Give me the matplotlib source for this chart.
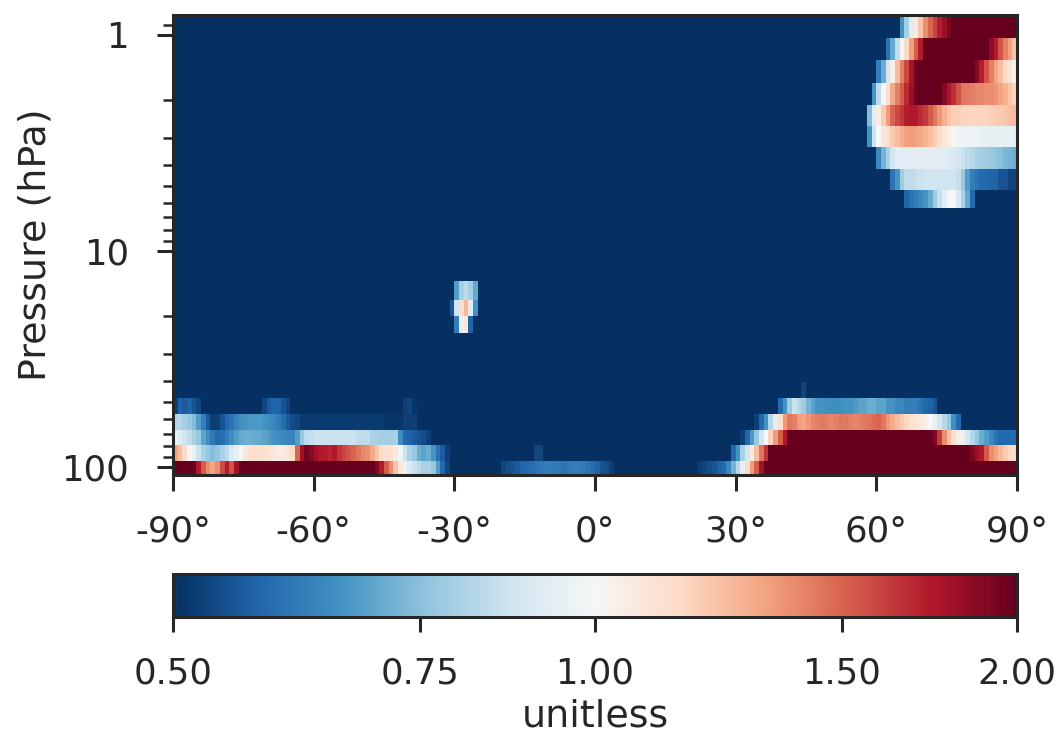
import numpy as np
import matplotlib
matplotlib.use("Agg")
import matplotlib.pyplot as plt
import matplotlib.colors as mcolors
import seaborn as sns

sns.set_theme(style="ticks")
plt.rcParams['font.family'] = ['DejaVu Sans']

# grid: 1 degree latitude cells, pressure level edges (hPa, top to bottom)
lat_edges = np.arange(-90, 91, 1)
p_edges = [0.81, 1.04, 1.31, 1.67, 2.12, 2.65, 3.32, 4.16, 5.2, 6.36, 7.79,
           9.48, 11.5, 13.8, 16.8, 20.1, 24.0, 28.7, 34.2, 40.6, 48.0, 56.9,
           67.2, 79.1, 93.5, 108.9]
background = 0.3   # everything that is plain deep blue

x_ticks = [-90, -60, -30, 0, 30, 60, 90]
x_labels = ['-90°', '-60°', '-30°', '0°', '30°', '60°', '90°']
cb_ticks = [0.5, 0.75, 1.0, 1.5, 2.0]
cb_labels = ['0.50', '0.75', '1.00', '1.50', '2.00']

# saturated blocks: (level, first lat, last lat, value)
blocks = [
    (0, 76, 89, 2.2), (1, 70, 83, 2.2), (2, 69, 80, 2.2), (3, 69, 73, 2.2),
    (21, -63, -39, 0.515),
    (24, -90, -86, 2.2), (24, -76, -48, 2.2),
    (22, 41, 71, 2.2), (23, 37, 78, 2.2), (24, 36, 89, 2.2),
]

# strips: (level, first lat, values at 1 degree steps)
arctic_top = [
    (0, 65, [0.66, 0.79, 0.92, 1.07, 1.22, 1.38, 1.5, 1.6, 1.72, 1.82, 1.92]),
    (1, 62, [0.6, 0.7, 0.84, 0.98, 1.14, 1.33, 1.52, 1.72]),
    (1, 84, [1.85, 1.72, 1.55, 1.42, 1.33, 1.22]),
    (2, 60, [0.62, 0.71, 0.88, 1.05, 1.24, 1.42, 1.58, 1.78, 1.95]),
    (2, 81, [1.88, 1.72, 1.55, 1.42, 1.32, 1.24, 1.15, 1.1, 1.04]),
    (3, 59, [0.66, 0.84, 0.99, 1.12, 1.3, 1.42, 1.52, 1.68, 1.82, 1.95]),
    (3, 74, [1.88, 1.76, 1.66, 1.55, 1.45, 1.43, 1.42, 1.4, 1.4, 1.38, 1.38,
             1.36, 1.32, 1.28, 1.22, 1.17]),
    (4, 58, [0.74, 0.92, 1.06, 1.2, 1.34, 1.5, 1.58, 1.64, 1.72, 1.74, 1.74,
             1.68, 1.62, 1.54, 1.45, 1.36, 1.28, 1.22, 1.18, 1.18, 1.17, 1.17,
             1.17, 1.17, 1.17, 1.17, 1.18, 1.19, 1.2, 1.22, 1.23, 1.24]),
    (5, 58, [0.66, 0.86, 0.99, 1.08, 1.13, 1.19, 1.24, 1.29, 1.33, 1.34, 1.33,
             1.31, 1.28, 1.24, 1.19, 1.13, 1.09, 1.05, 1.01, 0.97, 0.96, 0.96,
             0.96, 0.96, 0.95, 0.95, 0.95, 0.95, 0.95, 0.95, 0.95, 0.95]),
    (6, 60, [0.64, 0.72, 0.8, 0.88, 0.93, 0.93, 0.93, 0.93, 0.93, 0.93, 0.93,
             0.93, 0.93, 0.93, 0.93, 0.91, 0.9, 0.88, 0.86, 0.84, 0.82, 0.8,
             0.79, 0.78, 0.77, 0.76, 0.75, 0.73, 0.72, 0.71]),
    (7, 63, [0.6, 0.66, 0.78, 0.84, 0.84, 0.85, 0.86, 0.87, 0.87, 0.87, 0.87,
             0.87, 0.87, 0.87, 0.85, 0.77, 0.68, 0.62, 0.6, 0.58, 0.58, 0.57,
             0.57, 0.55, 0.55, 0.53, 0.53]),
    (8, 66, [0.57, 0.6, 0.62, 0.64, 0.66, 0.7, 0.78, 0.85, 0.93, 0.99, 0.99,
             0.9, 0.8, 0.7, 0.58]),
]

blob = [
    (13, -30, [0.68, 0.79, 0.83, 0.79, 0.7]),
    (14, -31, [0.55, 0.87, 1.14, 1.26, 0.92, 0.66]),
    (15, -30, [0.62, 0.95, 1.08, 0.57]),
]

south_low = [
    (20, -90, [0.52, 0.57, 0.56, 0.57, 0.55, 0.53]),
    (20, -71, [0.53, 0.56, 0.57, 0.57, 0.55, 0.53]),
    (20, -41, [0.52, 0.53, 0.51]),
    (21, -90, [0.82, 0.82, 0.79, 0.77, 0.74, 0.68, 0.62, 0.56, 0.52, 0.52,
               0.55, 0.58, 0.6, 0.63, 0.65, 0.66, 0.67, 0.67, 0.67, 0.66, 0.65,
               0.64, 0.62, 0.59, 0.56, 0.54, 0.53]),
    (21, -45, [0.51, 0.51, 0.51, 0.51, 0.52, 0.52, 0.52]),
    (22, -90, [0.96, 0.92, 0.88, 0.84, 0.8, 0.77, 0.69, 0.65, 0.61, 0.58,
               0.59, 0.62, 0.65, 0.68, 0.7, 0.71, 0.71, 0.7, 0.7, 0.69, 0.68,
               0.66, 0.65, 0.64, 0.63, 0.63, 0.68, 0.77, 0.84, 0.85, 0.86,
               0.86, 0.86, 0.86, 0.86, 0.86, 0.86, 0.86, 0.86, 0.84, 0.84,
               0.84, 0.8, 0.8, 0.79, 0.79, 0.79, 0.8, 0.65, 0.58, 0.57, 0.56,
               0.55, 0.54, 0.52]),
    (23, -90, [1.32, 1.24, 1.14, 1.0, 0.95, 0.86, 0.8, 0.77, 0.74, 0.76, 0.8,
               0.83, 0.9, 0.94, 0.99, 1.08, 1.12, 1.12, 1.13, 1.12, 1.1, 1.08,
               1.06, 1.07, 1.1, 1.14, 1.5, 1.8, 1.95, 1.88, 1.8, 1.74, 1.72,
               1.7, 1.74, 1.64, 1.6, 1.55, 1.5, 1.45, 1.4, 1.38, 1.3, 1.22,
               1.14, 1.12, 1.12, 1.08, 0.98, 0.86, 0.8, 0.77, 0.71, 0.69, 0.71,
               0.66, 0.6, 0.56, 0.52]),
    (24, -85, [1.74, 1.52, 1.38, 1.32, 1.38, 1.58, 1.72, 1.55, 1.8]),
    (24, -47, [1.9, 1.74, 1.52, 1.38, 1.22, 1.08, 0.96, 0.9, 0.86, 0.83, 0.8,
               0.8, 0.77, 0.68, 0.58, 0.53]),
]

tropics = [
    (24, -20, [0.53, 0.54, 0.55, 0.56, 0.57, 0.58, 0.59, 0.6, 0.61, 0.62,
               0.62, 0.61, 0.61, 0.6, 0.61, 0.62, 0.62, 0.61, 0.6, 0.59, 0.57,
               0.55, 0.54, 0.52]),
    (23, -13, [0.53, 0.53]),
]

north_low = [
    (19, 44, [0.53]),
    (20, 39, [0.58, 0.66, 0.78, 0.86, 0.82, 0.78, 0.72, 0.69, 0.66, 0.66,
              0.65, 0.65, 0.65, 0.65, 0.66, 0.66, 0.67, 0.69, 0.69, 0.71, 0.71,
              0.69, 0.69, 0.66, 0.66, 0.64, 0.64, 0.62, 0.62, 0.62, 0.6, 0.58,
              0.57, 0.55]),
    (21, 34, [0.52, 0.58, 0.66, 0.82, 0.93, 1.14, 1.35, 1.45, 1.42, 1.34,
              1.32, 1.36, 1.4, 1.42, 1.44, 1.42, 1.4, 1.42, 1.45, 1.44, 1.42,
              1.4, 1.42, 1.44, 1.46, 1.48, 1.5, 1.44, 1.36, 1.3, 1.24, 1.2,
              1.16, 1.12, 1.1, 1.07, 1.04, 0.99, 0.95, 0.88, 0.82, 0.77, 0.65,
              0.58]),
    (22, 31, [0.52, 0.58, 0.67, 0.77, 0.88, 1.0, 1.17, 1.34, 1.52, 1.74]),
    (22, 72, [1.9, 1.62, 1.38, 1.23, 1.13, 1.05, 0.95, 0.88, 0.82, 0.77, 0.71,
              0.68, 0.64, 0.6, 0.58, 0.58, 0.58, 0.58]),
    (23, 29, [0.58, 0.66, 0.8, 0.88, 1.07, 1.24, 1.45, 1.65]),
    (23, 79, [2.0, 1.9, 1.82, 1.74, 1.53, 1.38, 1.32, 1.26, 1.2, 1.16, 1.14]),
    (24, 22, [0.52, 0.53, 0.54, 0.55, 0.57, 0.58, 0.64, 0.72, 0.82, 0.95,
              1.14, 1.34, 1.52, 1.8]),
]

# build the level x latitude field
ratio = np.full((len(p_edges) - 1, len(lat_edges) - 1), background)
for lev, lat0, lat1, val in blocks:
    ratio[lev, lat0 + 90:lat1 + 91] = val
for lev, lat0, vals in arctic_top + blob + south_low + tropics + north_low:
    i0 = lat0 + 90
    ratio[lev, i0:i0 + len(vals)] = vals

fig = plt.figure(figsize=(5.29, 3.675), dpi=200)
ax = fig.add_axes([0.1635, 0.3537, 0.7977, 0.6259])
norm = mcolors.LogNorm(vmin=0.5, vmax=2.0)
mesh = ax.pcolormesh(lat_edges, p_edges, ratio, cmap='RdBu_r', norm=norm,
                     shading='flat')

ax.set_yscale('log')
ax.set_ylim(p_edges[-1], p_edges[0])
ax.set_xlim(-90, 90)
ax.set_yticks([1, 10, 100])
ax.set_yticklabels(['1', '10', '100'])
ax.set_xticks(x_ticks)
ax.set_xticklabels(x_labels)
ax.set_ylabel('Pressure (hPa)', fontsize=13.7)
ax.yaxis.set_label_coords(-0.142, 0.5)
ax.tick_params(axis='both', which='major', labelsize=12.8, length=5.8,
               width=1.1, color='.15')
ax.tick_params(axis='x', which='major', pad=8.3)
ax.tick_params(axis='y', which='major', pad=10)
ax.tick_params(axis='y', which='minor', length=3.5, width=0.9, color='.15')
for sp in ax.spines.values():
    sp.set_linewidth(1.1)
    sp.set_color('.15')

cax = fig.add_axes([0.1635, 0.1600, 0.7977, 0.0590])
cbar = fig.colorbar(mesh, cax=cax, orientation='horizontal', ticks=cb_ticks)
cbar.ax.minorticks_off()
cbar.ax.set_xticklabels(cb_labels)
cbar.ax.tick_params(labelsize=12.8, length=5.5, width=1.1, color='.15',
                    pad=8.5)
cbar.outline.set_linewidth(1.1)
cbar.outline.set_edgecolor('.15')
cbar.set_label('unitless', fontsize=13.7, labelpad=3)

fig.savefig('out.png', dpi=200)
